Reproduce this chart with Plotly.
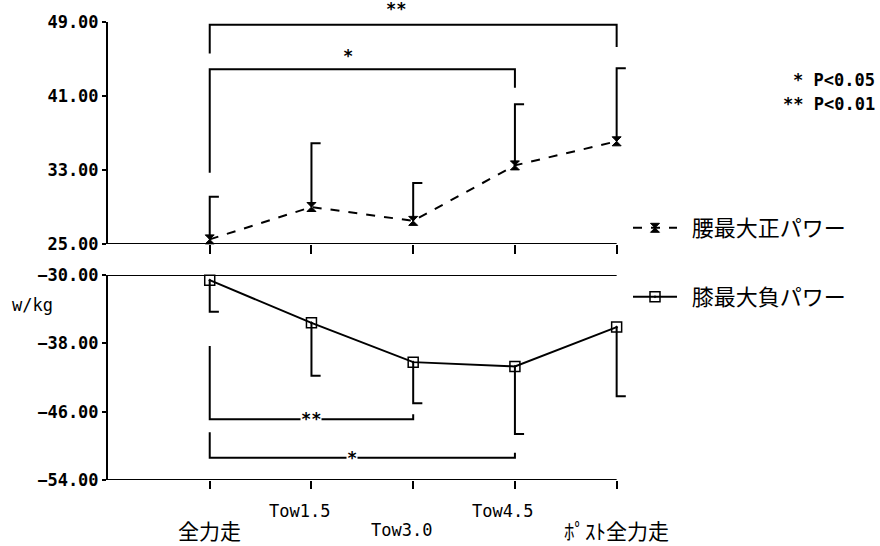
import plotly.graph_objects as go
from plotly.subplots import make_subplots

# ---------------- data ----------------
categories = ["全力走", "Tow1.5", "Tow3.0", "Tow4.5", "ﾎﾟｽﾄ全力走"]
x_idx = [0, 1, 2, 3, 4]

waist_name = "腰最大正パワー"
waist_mean = [25.5, 29.0, 27.5, 33.5, 36.1]
waist_sd = [4.6, 6.9, 4.1, 6.6, 7.9]

knee_name = "膝最大負パワー"
knee_mean = [-30.6, -35.6, -40.2, -40.7, -36.1]
knee_sd = [3.7, 6.2, 4.8, 7.9, 8.1]

# significance brackets
top_br_from = [0, 0]
top_br_to = [4, 3]
top_br_level = [48.7, 43.9]
top_br_left_end = [45.6, 32.7]
top_br_right_end = [46.3, 41.9]
top_br_label = ["**", "*"]
top_br_label_x = [1.83, 1.36]
top_br_label_y = [50.4, 45.3]

bot_br_from = [0, 0]
bot_br_to = [2, 3]
bot_br_level = [-46.9, -51.4]
bot_br_left_end = [-38.3, -48.4]
bot_br_right_end = [-46.3, -50.8]
bot_br_label = ["**", "*"]
bot_br_label_x = [1.0, 1.4]

top_range = [25, 49]
bot_range = [-54, -30]
top_ticks = [25, 33, 41, 49]
bot_ticks = [-30, -38, -46, -54]
y_unit = "w/kg"
p_notes = ["* P<0.05", "** P<0.01"]

# ---------------- style ----------------
MONO = "DejaVu Sans Mono"
CJK = "Noto Sans CJK JP"
BLACK = "black"
CAP = 0.09
label_row = [2, 1, 2, 1, 2]
label_shift = [0, -12, -12, -12, 0]
label_font = [CJK, MONO, MONO, MONO, CJK]
label_size = [21, 17, 17, 17, 21]
X_MIN = -1
X_PAD = 0.2

fig = make_subplots(rows=2, cols=1)

# ---- top series ----
fig.add_trace(go.Scatter(
    x=x_idx, y=waist_mean, mode="lines+markers", name="  " + waist_name,
    line=dict(color=BLACK, width=2, dash="dash"),
    marker=dict(symbol="hourglass", size=9, color=BLACK, line=dict(color=BLACK, width=1)),
    legend="legend", cliponaxis=False), row=1, col=1)

ex, ey = [], []
for xi, m, s in zip(x_idx, waist_mean, waist_sd):
    ex += [xi, xi, xi + CAP, None]
    ey += [m, m + s, m + s, None]
fig.add_trace(go.Scatter(x=ex, y=ey, mode="lines", line=dict(color=BLACK, width=2),
                         showlegend=False, hoverinfo="skip"), row=1, col=1)

bx, by = [], []
for a, b, lv, le, re in zip(top_br_from, top_br_to, top_br_level, top_br_left_end, top_br_right_end):
    bx += [a, a, b, b, None]
    by += [le, lv, lv, re, None]
fig.add_trace(go.Scatter(x=bx, y=by, mode="lines", line=dict(color=BLACK, width=2),
                         showlegend=False, hoverinfo="skip"), row=1, col=1)
for lx, ly, lt in zip(top_br_label_x, top_br_label_y, top_br_label):
    fig.add_annotation(x=lx, y=(ly - top_range[0]) / (top_range[1] - top_range[0]),
                       xref="x", yref="y domain", text=lt, showarrow=False,
                       font=dict(family=MONO, size=17, color=BLACK, weight="bold"),
                       yanchor="middle")

# ---- bottom series ----
fig.add_trace(go.Scatter(
    x=x_idx, y=knee_mean, mode="lines+markers", name="  " + knee_name,
    line=dict(color=BLACK, width=2),
    marker=dict(symbol="square-open-dot", size=10, color=BLACK, line=dict(color=BLACK, width=1.5)),
    legend="legend2", cliponaxis=False), row=2, col=1)

ex, ey = [], []
for xi, m, s in zip(x_idx, knee_mean, knee_sd):
    ex += [xi, xi, xi + CAP, None]
    ey += [m, m - s, m - s, None]
fig.add_trace(go.Scatter(x=ex, y=ey, mode="lines", line=dict(color=BLACK, width=2),
                         showlegend=False, hoverinfo="skip"), row=2, col=1)

bx, by = [], []
for a, b, lv, le, re in zip(bot_br_from, bot_br_to, bot_br_level, bot_br_left_end, bot_br_right_end):
    bx += [a, a, b, b, None]
    by += [le, lv, lv, re, None]
fig.add_trace(go.Scatter(x=bx, y=by, mode="lines", line=dict(color=BLACK, width=2),
                         showlegend=False, hoverinfo="skip"), row=2, col=1)
for lx, ly, lt in zip(bot_br_label_x, bot_br_level, bot_br_label):
    fig.add_annotation(x=lx, y=ly, xref="x2", yref="y2", text=lt, showarrow=False,
                       font=dict(family=MONO, size=17, color=BLACK, weight="bold"),
                       bgcolor="white", borderpad=0, yanchor="middle")

# ---- axes ----
x_lo, x_hi = X_MIN, x_idx[-1]
axis_common = dict(showgrid=False, zeroline=False, linecolor=BLACK, linewidth=2,
                   ticks="outside", tickcolor=BLACK, tickwidth=2)
fig.update_xaxes(range=[x_lo, x_hi + X_PAD], tickvals=x_idx, ticktext=["" for _ in x_idx],
                 showline=False, ticklen=9, domain=[0, 1], **axis_common)
fig.update_xaxes(ticklen=8, row=2, col=1)
tickfont = dict(family=MONO, size=17, color=BLACK, weight="bold")
fig.update_yaxes(tickvals=top_ticks, range=top_range, tickformat=".2f", ticklen=4, showline=True,
                 domain=[236 / 458, 1], row=1, col=1, tickfont=tickfont, **axis_common)
fig.update_yaxes(tickvals=bot_ticks, range=bot_range, tickformat=".2f", ticklen=4, showline=True,
                 domain=[0, 205 / 458], row=2, col=1, tickfont=tickfont, **axis_common)

# horizontal axis lines ending at the last category
for xr, yr, yv in [("x", "y", top_range[0]), ("x2", "y2", bot_range[0]), ("x2", "y2", bot_range[1])]:
    fig.add_shape(type="line", xref=xr, yref=yr, x0=x_lo, x1=x_hi, y0=yv, y1=yv,
                  line=dict(color=BLACK, width=2), layer="above")

# category labels (staggered)
row_y = {1: -31 / 458, 2: -50 / 458}
for xi, c, r, sh, f, sz in zip(x_idx, categories, label_row, label_shift, label_font, label_size):
    fig.add_annotation(x=xi, y=row_y[r], xref="x2", yref="paper", text=c, showarrow=False,
                       xshift=sh, yanchor="middle", font=dict(family=f, size=sz, color=BLACK))

plot_w = 509 * (x_hi + X_PAD - x_lo) / (x_hi - x_lo)

# unit label
fig.add_annotation(xref="paper", yref="paper", x=-98 / plot_w, y=(480 - 305) / 458, xanchor="left",
                   text=y_unit, showarrow=False, font=dict(family=MONO, size=17, color=BLACK))

# p-value notes
for i, t in enumerate(p_notes):
    fig.add_annotation(x=(878 - 108) / plot_w, y=(480 - (80 + 24 * i)) / 458, xref="paper", yref="paper",
                       text=t, showarrow=False, xanchor="right", yanchor="middle",
                       font=dict(family=MONO, size=17, color=BLACK, weight="bold"))

fig.update_layout(
    width=880, height=546,
    margin=dict(l=108, r=880 - 108 - plot_w, t=22, b=66, autoexpand=False),
    paper_bgcolor="white", plot_bgcolor="white",
    legend=dict(xref="container", yref="container", x=628 / 880, y=(546 - 228) / 546,
                xanchor="left", yanchor="middle", font=dict(family=CJK, size=22, color=BLACK),
                itemwidth=44, bgcolor="rgba(0,0,0,0)"),
    legend2=dict(xref="container", yref="container", x=628 / 880, y=(546 - 297) / 546,
                 xanchor="left", yanchor="middle", font=dict(family=CJK, size=22, color=BLACK),
                 itemwidth=44, bgcolor="rgba(0,0,0,0)"),
)

fig.write_html("out.html")
